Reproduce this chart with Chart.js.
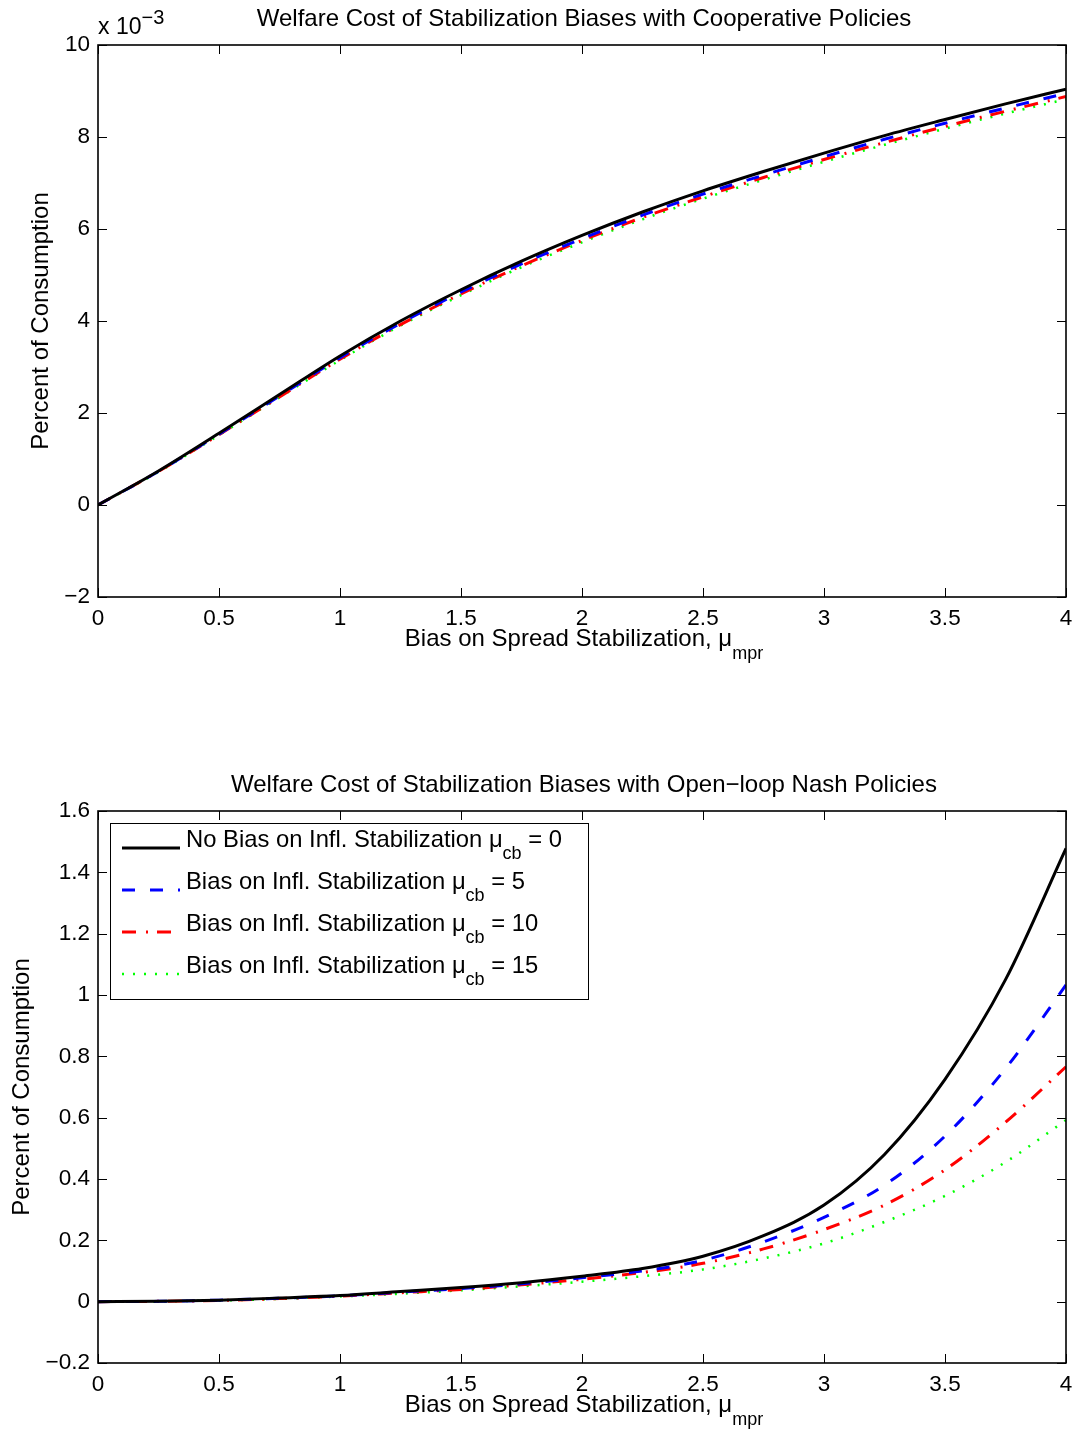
<!DOCTYPE html>
<html>
<head>
<meta charset="utf-8">
<script src="https://cdn.jsdelivr.net/npm/chart.js@4.4.1/dist/chart.umd.min.js"></script>
<style>
  html, body { margin: 0; padding: 0; background: #fff; }
  #wrap { position: relative; width: 1078px; height: 1431px; }
  canvas { position: absolute; left: 0; }
</style>
</head>
<body>
<div id="wrap">
  <canvas id="coop" width="1078" height="716" style="top:0"></canvas>
  <canvas id="nash" width="1078" height="715" style="top:716px"></canvas>
</div>
<script>
// bias on spread stabilization (x axis)
const muMpr = [0, 0.25, 0.5, 0.75, 1, 1.25, 1.5, 1.75, 2, 2.25, 2.5, 2.75, 3, 3.25, 3.5, 3.75, 4];

// cooperative policies, percent of consumption (x 10^-3)
const coopCb0  = [0, 0.74, 1.56, 2.40, 3.24, 4.00, 4.68, 5.30, 5.86, 6.37, 6.83, 7.25, 7.65, 8.03, 8.38, 8.72, 9.04];
const coopCb5  = [0, 0.73, 1.54, 2.37, 3.20, 3.95, 4.63, 5.24, 5.79, 6.30, 6.76, 7.17, 7.57, 7.95, 8.30, 8.63, 8.95];
const coopCb10 = [0, 0.73, 1.53, 2.35, 3.17, 3.92, 4.59, 5.20, 5.75, 6.25, 6.70, 7.12, 7.51, 7.88, 8.23, 8.56, 8.88];
const coopCb15 = [0, 0.72, 1.52, 2.34, 3.15, 3.90, 4.56, 5.17, 5.71, 6.21, 6.66, 7.07, 7.46, 7.83, 8.18, 8.51, 8.82];

// open-loop nash policies, percent of consumption
const nashCb0  = [0, 0.001, 0.005, 0.012, 0.020, 0.033, 0.046, 0.062, 0.083, 0.108, 0.148, 0.215, 0.315, 0.48, 0.725, 1.05, 1.478];
const nashCb5  = [0, 0.001, 0.005, 0.011, 0.019, 0.031, 0.043, 0.058, 0.078, 0.100, 0.135, 0.195, 0.275, 0.38, 0.54, 0.76, 1.033];
const nashCb10 = [0, 0.001, 0.004, 0.010, 0.018, 0.029, 0.040, 0.055, 0.073, 0.095, 0.125, 0.172, 0.235, 0.315, 0.43, 0.585, 0.766];
const nashCb15 = [0, 0.001, 0.004, 0.009, 0.017, 0.026, 0.037, 0.050, 0.065, 0.083, 0.105, 0.141, 0.19, 0.26, 0.345, 0.455, 0.592];

const cbValues = ['0', '5', '10', '15'];
const legendLabels = ['No Bias on Infl. Stabilization ', 'Bias on Infl. Stabilization ', 'Bias on Infl. Stabilization ', 'Bias on Infl. Stabilization '];

const FONT = '"Liberation Sans", Arial, Helvetica, sans-serif';

function points(ys) {
    return muMpr.map((x, i) => ({ x: x, y: ys[i] }));
}

function makeDatasets(series) {
    const styles = [
        { borderColor: '#000000', borderWidth: 3, borderDash: [] },
        { borderColor: '#0000ff', borderWidth: 3, borderDash: [13, 15] },
        { borderColor: '#ff0000', borderWidth: 3, borderDash: [14, 10, 2, 9] },
        { borderColor: '#00ff00', borderWidth: 2.5, borderDash: [2, 9] }
    ];
    return series.map((s, i) => Object.assign({
        data: points(s),
        pointRadius: 0,
        fill: false,
        cubicInterpolationMode: 'monotone',
        borderCapStyle: 'butt'
    }, styles[i]));
}

// draws pieces of text side by side: [text, size, dy]
function textRun(ctx, parts, x, y, align) {
    let w = 0;
    parts.forEach(p => { ctx.font = p[1] + 'px ' + FONT; w += ctx.measureText(p[0]).width; });
    let cx = align === 'center' ? x - w / 2 : x;
    parts.forEach(p => {
        ctx.font = p[1] + 'px ' + FONT;
        ctx.fillText(p[0], cx, y + (p[2] || 0));
        cx += ctx.measureText(p[0]).width;
    });
}

const matlabAxes = {
    id: 'matlabAxes',
    afterDraw(chart, args, opts) {
        const ctx = chart.ctx, a = chart.chartArea;
        const xs = chart.scales.x, ys = chart.scales.y;
        ctx.save();
        ctx.strokeStyle = '#000';
        ctx.lineWidth = 1;
        ctx.beginPath();
        xs.ticks.forEach(t => {
            const p = Math.round(xs.getPixelForValue(t.value)) + 0.5;
            ctx.moveTo(p, a.bottom); ctx.lineTo(p, a.bottom - 9);
            ctx.moveTo(p, a.top); ctx.lineTo(p, a.top + 9);
        });
        ys.ticks.forEach(t => {
            const p = Math.round(ys.getPixelForValue(t.value)) + 0.5;
            ctx.moveTo(a.left, p); ctx.lineTo(a.left + 9, p);
            ctx.moveTo(a.right, p); ctx.lineTo(a.right - 9, p);
        });
        ctx.stroke();
        ctx.lineWidth = 1.6;
        ctx.strokeRect(a.left, a.top, a.right - a.left, a.bottom - a.top);

        ctx.fillStyle = '#000';
        ctx.textAlign = 'left';
        ctx.textBaseline = 'alphabetic';
        const cx = (a.left + a.right) / 2 + 2;
        textRun(ctx, [[opts.title, 24]], cx, opts.titleY, 'center');
        textRun(ctx, [['Bias on Spread Stabilization, \u03bc', 24], ['mpr', 18, 13]], cx, opts.xLabelY, 'center');

        ctx.save();
        ctx.translate(opts.yLabelX, (a.top + a.bottom) / 2);
        ctx.rotate(-Math.PI / 2);
        textRun(ctx, [['Percent of Consumption', 24]], 0, 0, 'center');
        ctx.restore();

        if (opts.exponent) {
            textRun(ctx, [['x 10', 23], ['\u22123', 20, -10]], a.left, a.top - 11, 'left');
        }

        if (opts.legend) {
            const L = opts.legend;
            ctx.fillStyle = '#fff';
            ctx.fillRect(L.x, L.y, L.w, L.h);
            ctx.lineWidth = 1;
            ctx.strokeStyle = '#000';
            ctx.strokeRect(L.x + 0.5, L.y + 0.5, L.w, L.h);
            chart.data.datasets.forEach((ds, i) => {
                const ly = L.y + 25 + i * 42;
                ctx.save();
                ctx.strokeStyle = ds.borderColor;
                ctx.lineWidth = ds.borderWidth;
                ctx.setLineDash(ds.borderDash);
                ctx.beginPath();
                ctx.moveTo(L.x + 12, ly);
                ctx.lineTo(L.x + 70, ly);
                ctx.stroke();
                ctx.restore();
                ctx.fillStyle = '#000';
                textRun(ctx, [[legendLabels[i] + '\u03bc', 23.8], ['cb', 18, 12], [' = ' + cbValues[i], 23.8]], L.x + 76, ly - 1, 'left');
            });
        }
        ctx.restore();
    }
};

function tickText(v) {
    return String(Math.round(v * 10) / 10).replace('-', '\u2212');
}

function makeChart(id, series, yMin, yMax, yStep, padTop, padBottom, plugOpts) {
    return new Chart(document.getElementById(id), {
        type: 'line',
        data: { datasets: makeDatasets(series) },
        options: {
            responsive: false,
            animation: false,
            layout: { padding: { left: 8, right: 12, top: padTop, bottom: padBottom } },
            plugins: {
                legend: { display: false },
                tooltip: { enabled: false },
                matlabAxes: plugOpts
            },
            scales: {
                x: {
                    type: 'linear',
                    min: 0, max: 4,
                    grid: { display: false, drawTicks: false },
                    border: { display: false },
                    ticks: { stepSize: 0.5, padding: 8, color: '#000', font: { family: FONT, size: 22.5 }, callback: tickText, maxRotation: 0, autoSkip: false },
                    afterFit(s) { s.height = 50; s.paddingLeft = 0; s.paddingRight = 0; }
                },
                y: {
                    min: yMin, max: yMax,
                    grid: { display: false, drawTicks: false },
                    border: { display: false },
                    ticks: { stepSize: yStep, padding: 8, color: '#000', font: { family: FONT, size: 22.5 }, callback: tickText, autoSkip: false },
                    afterFit(s) { s.width = 90; s.paddingTop = 0; s.paddingBottom = 0; }
                }
            }
        },
        plugins: [matlabAxes]
    });
}

makeChart('coop', [coopCb0, coopCb5, coopCb10, coopCb15], -2, 10, 2, 45, 69, {
    title: 'Welfare Cost of Stabilization Biases with Cooperative Policies',
    titleY: 26, xLabelY: 646, yLabelX: 48, exponent: true
});

makeChart('nash', [nashCb0, nashCb5, nashCb10, nashCb15], -0.2, 1.6, 0.2, 95, 18, {
    title: 'Welfare Cost of Stabilization Biases with Open\u2212loop Nash Policies',
    titleY: 76, xLabelY: 696, yLabelX: 29,
    legend: { x: 110, y: 107, w: 478, h: 176 }
});
</script>
</body>
</html>
